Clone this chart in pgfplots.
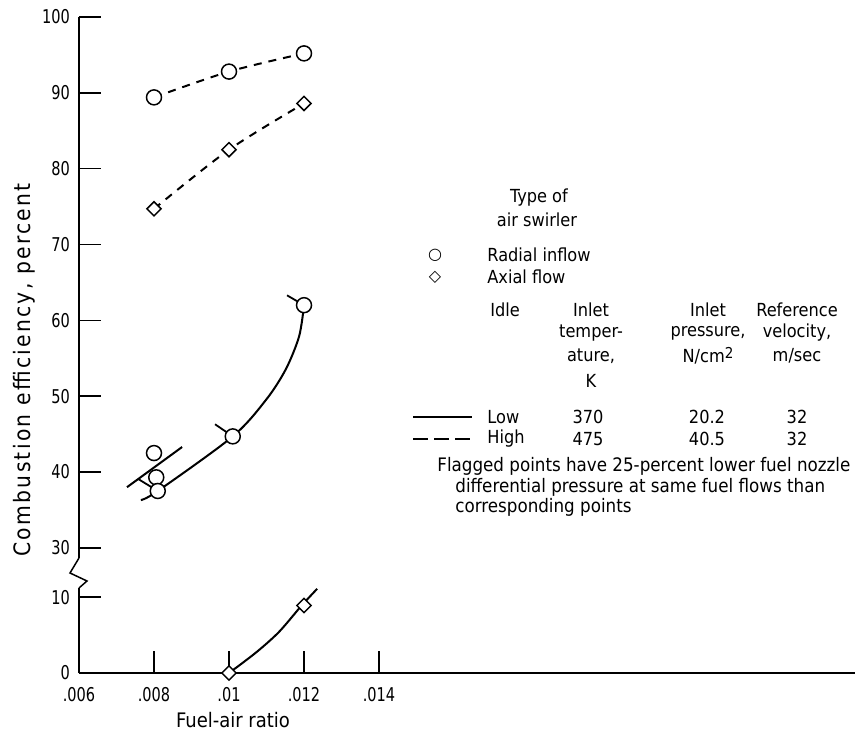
\documentclass[border=0pt]{standalone}
\usepackage{pgfplots}
\pgfplotsset{compat=1.18}
\usepackage{fontspec}
\setmainfont{DejaVu Sans Condensed}
\newfontfamily\sym{DejaVu Sans}
\newfontfamily\tickfont[FakeStretch=0.85]{DejaVu Sans Condensed}
\newfontfamily\ylabfont[LetterSpace=10]{DejaVu Sans Condensed}
\begin{document}
\begin{tikzpicture}[font=\fontsize{9}{11}\selectfont]
\useasboundingbox (-39.5pt,-30pt) rectangle (388.5pt,336.5pt);
\begin{axis}[
  at={(0pt,0pt)}, anchor=south west,
  scale only axis, width=388pt, height=328pt,
  xmin=0.006, xmax=0.026693, ymin=0, ymax=100,
  y coord trafo/.code={\pgfmathparse{#1>20 ? #1-13.5 : #1}},
  y coord inv trafo/.code={\pgfmathparse{#1>13 ? #1+13.5 : #1}},
  scaled x ticks=false, scaled y ticks=false,
  axis lines=left,
  axis line style={-, line width=0.75pt},
  tick align=inside,
  major tick length=11pt,
  tick style={line width=0.75pt, black},
  xtick={0.006,0.008,0.010,0.012,0.014},
  xticklabels={.006,.008,.01,.012,.014},
  ytick={0,10,30,40,50,60,70,80,90,100},
  yticklabels={0,10,30,40,50,60,70,80,90,100},
  xticklabel style={yshift=-3.5pt, font=\tickfont\fontsize{9.5}{11}\selectfont},
  yticklabel style={xshift=-1pt, font=\tickfont\fontsize{9.5}{11}\selectfont},
  xlabel={Fuel-air ratio},
  ylabel={Combustion efficiency, percent},
  every axis x label/.style={at={(axis description cs:0.1985,-0.0716)}, anchor=center, font=\fontsize{10}{12}\selectfont},
  every axis y label/.style={at={(axis description cs:-0.0709,0.462)}, rotate=90, anchor=center, font=\ylabfont\fontsize{11.3}{13}\selectfont},
  clip=false,
]
% High idle, radial inflow (dashed)
\addplot[black, line width=1pt, dash pattern=on 4pt off 3.5pt, smooth,
  mark=*, mark size=3.75pt, mark options={solid, fill=white, line width=0.75pt}]
  coordinates {(0.008,89.4) (0.010,92.8) (0.012,95.2)};
% High idle, axial flow (dashed)
\addplot[black, line width=1pt, dash pattern=on 4pt off 3.5pt, smooth,
  mark=square*, mark size=2.5pt, mark options={solid, fill=white, line width=0.75pt, rotate=45}]
  coordinates {(0.008,74.7) (0.010,82.5) (0.012,88.6)};
% Low idle, radial inflow: faired curve
\addplot[black, line width=1pt, smooth]
  coordinates {(0.00765,36.3) (0.0081,37.5) (0.0101,44.7) (0.0110,49.6) (0.01152,53.6) (0.01187,57.9) (0.0120,62.0)};
% Low idle, radial inflow: flagged-point fairing
\addplot[black, line width=1pt]
  coordinates {(0.00728,38.0) (0.00875,43.3)};
% flags
\addplot[black, line width=0.9pt] coordinates {(0.011547,63.3) (0.0120,62.0)};
\addplot[black, line width=0.9pt] coordinates {(0.009627,46.3) (0.0101,44.7)};
\addplot[black, line width=0.9pt] coordinates {(0.007573,39.1) (0.0081,37.5)};
% Low idle, radial inflow points
\addplot[only marks, mark=*, mark size=3.75pt, mark options={fill=white, draw=black, line width=0.75pt}]
  coordinates {(0.0080,42.5) (0.00806,39.3) (0.0081,37.5) (0.0101,44.7) (0.0120,62.0)};
% Low idle, axial flow
\addplot[black, line width=1pt, smooth]
  coordinates {(0.010,0) (0.01072,2.7) (0.01133,5.4) (0.01192,8.8) (0.01235,11.1)};
\addplot[only marks, mark=square*, mark size=2.5pt, mark options={fill=white, draw=black, line width=0.75pt, rotate=45}]
  coordinates {(0.010,0) (0.012,8.9)};
\end{axis}
% axis break
\fill[white] (-2pt,42.5pt) rectangle (2pt,57.5pt);
\draw[line width=0.75pt] (0pt,57.5pt) -- (-4.5pt,50pt) -- (4pt,46pt) -- (0pt,42.5pt);
% legend / key
\node at (230pt,237.5pt) {Type of};
\node at (229pt,226.5pt) {air swirler};
\node at (178pt,209pt) {\sym\fontsize{8}{9}\selectfont ○};
\node at (178pt,198pt) {\sym\fontsize{8}{9}\selectfont ◇};
\node[anchor=west, inner sep=0pt] at (204pt,209pt) {Radial inflow};
\node[anchor=west, inner sep=0pt] at (204pt,198pt) {Axial flow};
\node[anchor=west, inner sep=0pt] at (205.5pt,181.5pt) {Idle};
\node at (256pt,181.5pt) {Inlet};
\node at (256pt,170pt) {temper-};
\node at (256pt,158.5pt) {ature,};
\node at (256pt,146pt) {K};
\node at (314.5pt,181.5pt) {Inlet};
\node at (314.5pt,170pt) {pressure,};
\node at (314.5pt,158.5pt) {N/cm\raisebox{0.45ex}{\fontsize{7.5}{8}\selectfont 2}};
\node at (359pt,181.5pt) {Reference};
\node at (359pt,170pt) {velocity,};
\node at (359pt,158.5pt) {m/sec};
\draw[line width=1pt] (167pt,128pt) -- (196.5pt,128pt);
\draw[line width=1pt, dash pattern=on 7.5pt off 3pt] (167pt,117pt) -- (196.5pt,117pt);
\node[anchor=west, inner sep=0pt] at (204pt,128pt) {Low};
\node[anchor=west, inner sep=0pt] at (204pt,117pt) {High};
\node at (254.5pt,128pt) {370};
\node at (254.5pt,117pt) {475};
\node at (314pt,128pt) {20.2};
\node at (314pt,117pt) {40.5};
\node at (359pt,128pt) {32};
\node at (359pt,117pt) {32};
\begin{scope}[font=\fontsize{9.3}{11}\selectfont]
\node[anchor=west, inner sep=0pt] at (179pt,103.5pt) {Flagged points have 25-percent lower fuel nozzle};
\node[anchor=west, inner sep=0pt] at (188pt,93pt) {differential pressure at same fuel flows than};
\node[anchor=west, inner sep=0pt] at (188pt,83pt) {corresponding points};
\end{scope}
\end{tikzpicture}
\end{document}
